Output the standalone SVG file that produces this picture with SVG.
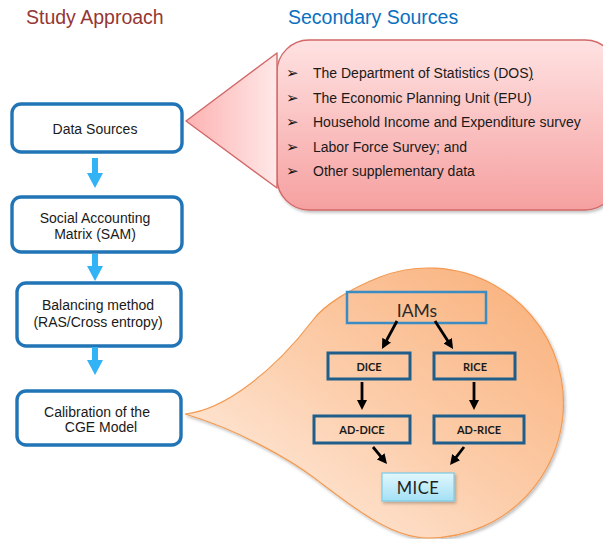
<svg xmlns="http://www.w3.org/2000/svg" width="603" height="539" viewBox="0 0 603 539">
<style>
.title{font-family:"Liberation Sans",Arial,sans-serif;font-size:19.5px}
.lbl{font-family:"Liberation Sans",Arial,sans-serif;font-size:14px;fill:#1a1a1a}
.step{fill:#ffffff;stroke:#2175B6;stroke-width:3.4}
.barrow{fill:#31B3F5}
.bul{font-family:"Liberation Sans",Arial,sans-serif;font-size:14px;fill:#1a1a1a}
.bl{font-family:"DejaVu Sans",sans-serif;font-size:15px;fill:#111}
.ibox{fill:none;stroke:#1F5E8A;stroke-width:3}
.itx{font-family:Lato,"Open Sans",sans-serif;font-size:11px;font-weight:bold;fill:#1a1a1a;text-anchor:middle}
.conn{stroke:#000;stroke-width:2.8;fill:none;marker-end:url(#ah)}
</style>
<defs>
<marker id="ah" viewBox="0 0 10 10" refX="4" refY="5" markerWidth="10" markerHeight="10" markerUnits="userSpaceOnUse" orient="auto">
<path d="M0,0 L10,5 L0,10 Z" fill="#000"/>
</marker>
<linearGradient id="pinkR" x1="0" y1="0" x2="0" y2="1">
<stop offset="0" stop-color="#FFE2E2"/>
<stop offset="1" stop-color="#F6A0A0"/>
</linearGradient>
<linearGradient id="pinkT" x1="0" y1="0" x2="1" y2="0">
<stop offset="0" stop-color="#FDB2B2"/>
<stop offset="1" stop-color="#FFE8E8"/>
</linearGradient>
<linearGradient id="orng" x1="1" y1="0" x2="0" y2="1">
<stop offset="0" stop-color="#F9AF78"/>
<stop offset="0.5" stop-color="#FCCDAA"/>
<stop offset="1" stop-color="#FFF3EB"/>
</linearGradient>
<linearGradient id="mice" x1="0" y1="0" x2="0" y2="1">
<stop offset="0" stop-color="#E2F7FD"/>
<stop offset="1" stop-color="#A3E0F5"/>
</linearGradient>
<filter id="sh" x="-10%" y="-10%" width="130%" height="130%">
<feDropShadow dx="1.5" dy="2" stdDeviation="1.5" flood-color="#000" flood-opacity="0.25"/>
</filter>
</defs>

<text class="title" x="26" y="24" fill="#953734">Study Approach</text>
<text class="title" x="288" y="24" fill="#0A70C0">Secondary Sources</text>

<g id="secondary-sources-callout">
<rect x="277" y="40" width="340" height="170" rx="32" ry="32" fill="url(#pinkR)" stroke="#D26868" stroke-width="1.4" filter="url(#sh)"/>
<path d="M186,121 L277,53 L277,188 Z" fill="url(#pinkT)" stroke="#D26868" stroke-width="1.4" stroke-linejoin="round"/>
<text class="bl" x="286" y="78">➢</text>
<text class="bl" x="286" y="102.5">➢</text>
<text class="bl" x="286" y="127">➢</text>
<text class="bl" x="286" y="151.5">➢</text>
<text class="bl" x="286" y="175.5">➢</text>
<text class="bul" x="313" y="77.5">The Department of Statistics (DOS<tspan text-decoration="underline">)</tspan></text>
<text class="bul" x="313" y="102.5">The Economic Planning Unit (EPU)</text>
<text class="bul" x="313" y="127">Household Income and Expenditure survey</text>
<text class="bul" x="313" y="151.5">Labor Force Survey; and</text>
<text class="bul" x="313" y="175.5">Other supplementary data</text>
</g>

<g id="iam-callout">
<path d="M185,414 C225,410 275,370 313,320 C325,304 352,288 380,277 A135,135 0 1 1 428,538 C390,538 350,505 313,477 C293,462 240,430 185,414 Z" fill="url(#orng)" stroke="#F39A52" stroke-width="1.2" filter="url(#sh)"/>
</g>

<g id="data-sources">
<rect class="step" x="12" y="104" width="170" height="48" rx="9"/>
<text class="lbl" x="95" y="134" text-anchor="middle">Data Sources</text>
</g>
<g id="sam">
<rect class="step" x="12" y="197" width="170" height="55" rx="9"/>
<text class="lbl" x="95" y="223" text-anchor="middle">Social Accounting</text>
<text class="lbl" x="95" y="239" text-anchor="middle">Matrix (SAM)</text>
</g>
<g id="balancing">
<rect class="step" x="17" y="283" width="164" height="63" rx="9"/>
<text class="lbl" x="98" y="310" text-anchor="middle">Balancing method</text>
<text class="lbl" x="98" y="327" text-anchor="middle">(RAS/Cross entropy)</text>
</g>
<g id="calibration">
<rect class="step" x="17" y="391" width="164" height="54" rx="9"/>
<text class="lbl" x="97" y="417" text-anchor="middle">Calibration of the</text>
<text class="lbl" x="101" y="432" text-anchor="middle">CGE Model</text>
</g>

<g id="iams">
<rect x="347" y="292" width="139" height="31" fill="none" stroke="#3A8CC3" stroke-width="2.5"/>
<text x="417" y="317" font-family="Lato,'Open Sans',sans-serif" font-size="17.5" fill="#2a2a2a" text-anchor="middle">IAMs</text>
</g>
<g id="dice">
<rect class="ibox" x="328" y="353" width="82" height="26"/>
<text class="itx" x="369" y="370.5">DICE</text>
</g>
<g id="rice">
<rect class="ibox" x="434" y="353" width="81" height="26"/>
<text class="itx" x="475" y="370.5">RICE</text>
</g>
<g id="ad-dice">
<rect class="ibox" x="314" y="416" width="96" height="27"/>
<text class="itx" x="362" y="434">AD-DICE</text>
</g>
<g id="ad-rice">
<rect class="ibox" x="434" y="416" width="90" height="27"/>
<text class="itx" x="479" y="434">AD-RICE</text>
</g>
<g id="mice-node">
<rect x="382" y="473" width="72" height="28" fill="url(#mice)" stroke="#7CCBE6" stroke-width="1.2" filter="url(#sh)"/>
<text x="418" y="494" font-family="Lato,'Open Sans',sans-serif" font-size="16.5" fill="#222" text-anchor="middle" letter-spacing="0.5">MICE</text>
</g>

<g id="connectors">
<path class="barrow" d="M92,158 L98,158 L98,173 L103,173 L95,188 L87,173 L92,173 Z"/>
<path class="barrow" d="M92,254 L98,254 L98,266 L103,266 L95,281 L87,266 L92,266 Z"/>
<path class="barrow" d="M92,347 L98,347 L98,360 L103,360 L95,375 L87,360 L92,360 Z"/>
<line class="conn" x1="397" y1="321" x2="384.8" y2="343.7"/>
<line class="conn" x1="435" y1="321" x2="449.8" y2="344"/>
<line class="conn" x1="362" y1="382" x2="362" y2="404"/>
<line class="conn" x1="474" y1="382" x2="474" y2="404"/>
<line class="conn" x1="373" y1="447" x2="383.2" y2="459.4"/>
<line class="conn" x1="464" y1="447" x2="453.7" y2="460.3"/>
</g>
</svg>
